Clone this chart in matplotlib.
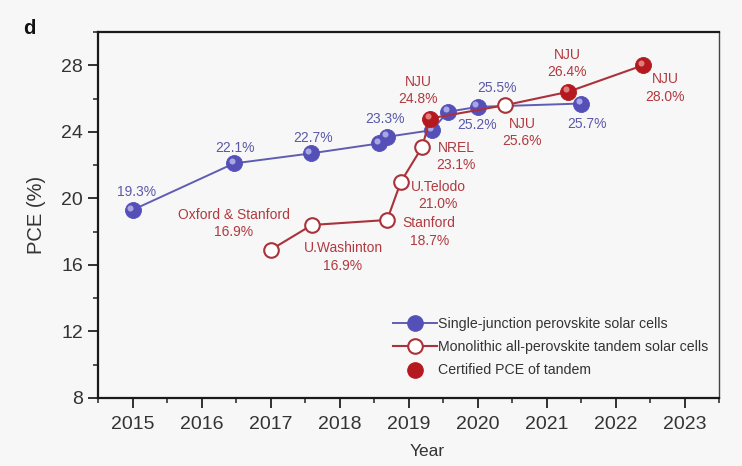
import matplotlib
matplotlib.use("Agg")
import matplotlib.pyplot as plt
from matplotlib.lines import Line2D
from matplotlib.transforms import offset_copy
from matplotlib.ticker import MultipleLocator

plt.rcParams['font.family'] = ['Liberation Sans', 'DejaVu Sans']

# ---------------- data ----------------
single_years = [2015.0, 2016.47, 2017.58, 2018.57, 2018.69, 2019.34, 2019.57, 2020.0, 2021.5]
single_pce = [19.3, 22.1, 22.7, 23.3, 23.7, 24.1, 25.2, 25.5, 25.7]

tandem_years = [2017.0, 2017.6, 2018.69, 2018.89, 2019.2, 2019.31, 2020.4, 2021.31, 2022.4]
tandem_pce = [16.9, 18.4, 18.7, 21.0, 23.1, 24.8, 25.6, 26.4, 28.0]
tandem_certified = [False, False, False, False, False, True, False, True, True]

single_labels = ["19.3%", "22.1%", "22.7%", "23.3%", "25.2%", "25.5%", "25.7%"]
tandem_labels = ["Oxford & Stanford\n16.9%", "U.Washinton\n16.9%", "Stanford\n18.7%",
                 "U.Telodo\n21.0%", "NREL\n23.1%", "NJU\n24.8%", "NJU\n25.6%",
                 "NJU\n26.4%", "NJU\n28.0%"]
year_ticks = [2015, 2016, 2017, 2018, 2019, 2020, 2021, 2022, 2023]
pce_ticks = [8, 12, 16, 20, 24, 28]

# ---------------- layout / style ----------------
single_label_pos = [(2015.06, 20.36), (2016.48, 23.05), (2017.61, 23.64), (2018.66, 24.78),
                    (2019.99, 24.42), (2020.28, 26.63), (2021.59, 24.48)]
tandem_label_pos = [(2016.47, 18.5), (2018.05, 16.48), (2019.30, 17.97), (2019.43, 20.18),
                    (2019.69, 22.5), (2019.14, 26.5), (2020.65, 23.94), (2021.30, 28.1),
                    (2022.72, 26.63)]

BLUE = '#5450b8'
BLUE_LINE = '#5f5db2'
BLUE_TXT = '#5b59a8'
RED = '#b3191f'
RED_LINE = '#a9323b'
RED_TXT = '#b03a40'
BG = '#f7f7f7'

fig = plt.figure(figsize=(7.42, 4.66), dpi=100, facecolor=BG)
ax = fig.add_axes([98/742, 1-398/466, 621/742, 366/466])
ax.set_facecolor(BG)


def spheres(xs, ys, color, hi, size, z):
    ax.plot(xs, ys, 'o', ms=size, mfc=color, mec=color, mew=0.6, ls='none', zorder=z)
    tr = offset_copy(ax.transData, fig=fig, x=-1.6, y=1.8, units='points')
    ax.plot(xs, ys, 'o', ms=size*0.38, mfc=hi, mec='none', alpha=0.75,
            ls='none', zorder=z + 0.1, transform=tr)


# single junction
ax.plot(single_years, single_pce, '-', color=BLUE_LINE, lw=1.4, zorder=2)
spheres(single_years, single_pce, BLUE, '#c8c4f4', 11.5, 3)

# tandem
ax.plot(tandem_years, tandem_pce, '-', color=RED_LINE, lw=1.5, zorder=4)
ox = [x for x, c in zip(tandem_years, tandem_certified) if not c]
oy = [y for y, c in zip(tandem_pce, tandem_certified) if not c]
cx = [x for x, c in zip(tandem_years, tandem_certified) if c]
cy = [y for y, c in zip(tandem_pce, tandem_certified) if c]
ax.plot(ox, oy, 'o', ms=10.5, mfc='white', mec=RED_LINE, mew=1.5, ls='none', zorder=5)
spheres(cx, cy, RED, '#f0a0a0', 11.5, 6)

for t, (x, y) in zip(single_labels, single_label_pos):
    ax.text(x, y, t, color=BLUE_TXT, fontsize=10, ha='center', va='center', zorder=8)
for t, (x, y) in zip(tandem_labels, tandem_label_pos):
    ax.text(x, y, t, color=RED_TXT, fontsize=10, ha='center', va='center',
            linespacing=1.3, zorder=8)

ax.set_xlim(2014.5, 2023.5)
ax.set_ylim(8, 30)
ax.set_xticks(year_ticks)
ax.set_yticks(pce_ticks)
ax.xaxis.set_minor_locator(MultipleLocator(0.5))
ax.yaxis.set_minor_locator(MultipleLocator(2))
ax.tick_params(which='major', direction='out', length=7.2, width=1.3, colors='#222222',
               labelsize=14, labelcolor='#333333')
ax.tick_params(axis='x', which='major', pad=6)
ax.tick_params(axis='y', which='major', pad=3.5)
ax.tick_params(which='minor', direction='out', length=3.5, width=1.1, colors='#222222')
ax.tick_params(axis='both', which='both', top=False, right=False)

for side in ['left', 'bottom', 'top']:
    ax.spines[side].set_linewidth(1.6)
    ax.spines[side].set_color('#1a1a1a')
ax.spines['right'].set_linewidth(1.0)
ax.spines['right'].set_color('#444444')

ax.set_xlabel('Year', fontsize=12.5, color='#333333')
ax.set_ylabel('PCE (%)', fontsize=14.5, color='#333333')
ax.xaxis.set_label_coords((427-98)/621, (398-444)/366)
ax.yaxis.set_label_coords((46-98)/621, 0.5)

fig.text(23/742, 1-29/466, 'd', fontsize=14.5, fontweight='bold', color='#111111',
         ha='left', va='center')

# legend
h1 = Line2D([], [], color=BLUE_LINE, lw=1.4, marker='o', ms=11, mfc=BLUE, mec=BLUE)
h2 = Line2D([], [], color=RED_LINE, lw=1.5, marker='o', ms=10.5, mfc='white', mec=RED_LINE, mew=1.5)
h3 = Line2D([], [], color='none', marker='o', ms=11, mfc=RED, mec=RED, ls='none')
leg = ax.legend([h1, h2, h3],
                ['Single-junction perovskite solar cells',
                 'Monolithic all-perovskite tandem solar cells',
                 'Certified PCE of tandem'],
                loc='lower left', bbox_to_anchor=((383-98)/621, 0.029), frameon=False,
                fontsize=10.2, handlelength=3.1, handletextpad=0.1, labelspacing=0.65,
                borderpad=0.2)
for t in leg.get_texts():
    t.set_color('#333333')

fig.savefig('out.png', dpi=100, facecolor=BG)
